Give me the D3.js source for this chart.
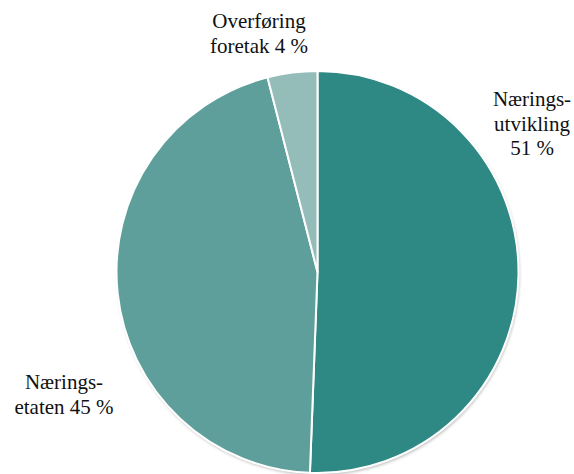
<!DOCTYPE html>
<html><head><meta charset="utf-8">
<script src="https://cdn.jsdelivr.net/npm/d3@7"></script>
<style>body{margin:0;background:#fff}svg{display:block}
text{font-family:"Liberation Serif","DejaVu Serif",serif}</style>
</head><body>
<svg id="c" width="574" height="474"></svg>
<script>
const categories = ["Næringsutvikling", "Næringsetaten", "Overføring foretak"];
const values = [50.6, 45.4, 4.0];
const labelLines = [["Nærings-", "utvikling", "51 %"], ["Nærings-", "etaten 45 %"], ["Overføring", "foretak 4 %"]];
const colors = ["#2e8883", "#5f9f9b", "#94bdba"];
const labelPos = [[532, 106], [64, 389], [259, 28]];

const svg = d3.select("#c");
const cx = 317.5, cy = 272, r = 201;
const defs = svg.append("defs");
const f = defs.append("filter").attr("id","sh").attr("x","-10%").attr("y","-10%").attr("width","120%").attr("height","120%");
f.append("feDropShadow").attr("dx",1).attr("dy",2).attr("stdDeviation",1.5).attr("flood-color","#000").attr("flood-opacity",0.25);

const pie = d3.pie().sort(null).value(d => d)(values);
const arc = d3.arc().innerRadius(0).outerRadius(r);
const g = svg.append("g").attr("transform", `translate(${cx},${cy})`);
g.append("circle").attr("r", r).attr("fill", "#fff").attr("filter","url(#sh)");
g.selectAll("path").data(pie).join("path")
  .attr("d", arc)
  .attr("fill", (d,i) => colors[i])
  .attr("stroke", "#fff")
  .attr("stroke-width", 2)
  .attr("stroke-linejoin","round");

labelLines.forEach((lines, i) => {
  const t = svg.append("text")
    .attr("x", labelPos[i][0]).attr("y", labelPos[i][1])
    .attr("text-anchor", "middle")
    .attr("font-size", 21).attr("fill", "#111");
  lines.forEach((l, j) => t.append("tspan").attr("x", labelPos[i][0]).attr("dy", j ? 24.5 : 0).text(l));
});
</script>
</body></html>
